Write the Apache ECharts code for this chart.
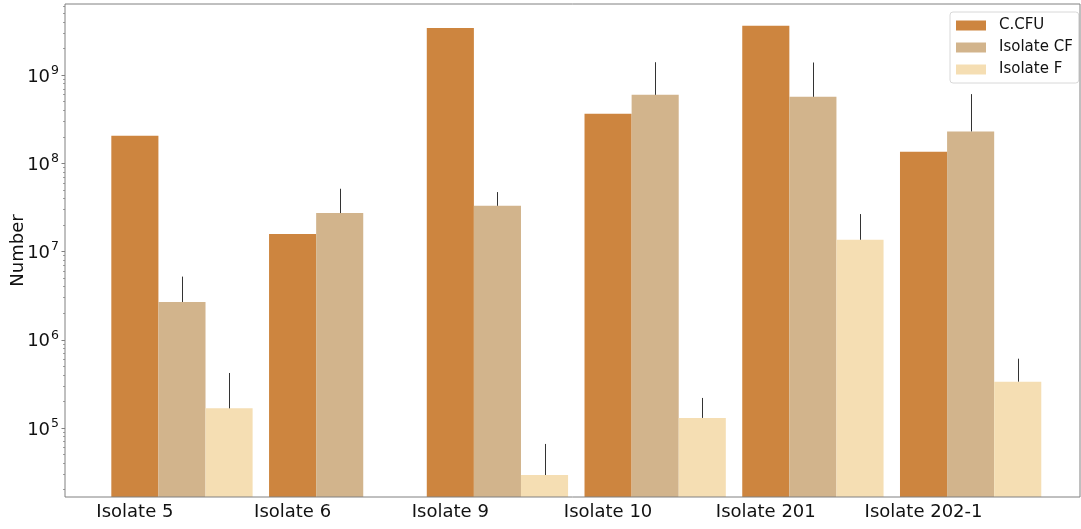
<!DOCTYPE html>
<html><head><meta charset="utf-8">
<script src="https://cdn.jsdelivr.net/npm/echarts@6/dist/echarts.min.js"></script>
<style>html,body{margin:0;padding:0;background:#fff}#c{width:1081px;height:529px}</style>
</head><body><div id="c"></div>
<script>
const categories = ['Isolate 5', 'Isolate 6', 'Isolate 9', 'Isolate 10', 'Isolate 201', 'Isolate 202-1'];
const seriesNames = ['C.CFU', 'Isolate CF', 'Isolate F'];
const cfu = [2.05e8, 1.58e7, 3.41e9, 3.64e8, 3.62e9, 1.35e8];
const isolateCF = [2.68e6, 2.73e7, 3.30e7, 5.98e8, 5.68e8, 2.30e8];
const isolateCFErrTop = [5.2e6, 5.15e7, 4.72e7, 1.40e9, 1.39e9, 6.09e8];
const isolateF = [1.67e5, null, 2.93e4, 1.30e5, 1.36e7, 3.35e5];
const isolateFErrTop = [4.2e5, null, 6.59e4, 2.19e5, 2.66e7, 6.1e5];
const yTickValues = [1e5, 1e6, 1e7, 1e8, 1e9];
const yMin = 1.65e4, yMax = 6.4e9;
const colors = ['#CD853F', '#D2B48C', '#F5DEB3'];

const minorTicks = [];
for (let e = 4; e <= 9; e++) for (let k = 2; k <= 9; k++) {
  const v = k * Math.pow(10, e);
  if (v > yMin && v < yMax) minorTicks.push(v);
}

const FONT = 'DejaVu Sans';
const barW = 0.2986;
const gridTop = 4, gridBottom = 32;

const errData = [];
isolateCF.forEach((v, i) => { if (v != null && isolateCFErrTop[i] != null) errData.push([i, v, isolateCFErrTop[i], 0]); });
isolateF.forEach((v, i) => { if (v != null && isolateFErrTop[i] != null) errData.push([i, v, isolateFErrTop[i], 1]); });

const chart = echarts.init(document.getElementById('c'), null, {renderer: 'canvas'});
chart.setOption({
  animation: false,
  textStyle: {fontFamily: FONT},
  grid: [
    {left: 65, top: gridTop, width: 1015, bottom: gridBottom, show: true, borderColor: '#808080', borderWidth: 1, z: 10, containLabel: false, outerBoundsMode: 'none'},
    {left: 103.1, top: gridTop, width: 946.4, bottom: gridBottom, containLabel: false, outerBoundsMode: 'none'},
    {left: 56.0, top: gridTop, width: 946.4, bottom: gridBottom, containLabel: false, outerBoundsMode: 'none'}
  ],
  legend: {
    data: seriesNames,
    orient: 'vertical',
    left: 950, top: 12,
    itemWidth: 30, itemHeight: 10, itemGap: 7,
    icon: 'rect',
    padding: [6, 6, 6, 6],
    borderColor: '#d8d8d8', borderWidth: 1, borderRadius: 3,
    backgroundColor: 'rgba(255,255,255,0.85)',
    textStyle: {fontFamily: FONT, fontSize: 15, color: '#111', lineHeight: 15, padding: [0, 0, 0, 8]}
  },
  xAxis: [
    {type: 'value', gridIndex: 0, min: 0, max: 1, show: false},
    {type: 'category', gridIndex: 1, data: categories, show: false},
    {type: 'category', gridIndex: 2, data: categories,
      axisLine: {show: false},
      axisTick: {alignWithLabel: true, length: 3.5, lineStyle: {color: '#808080'}},
      axisLabel: {fontFamily: FONT, fontSize: 18, color: '#111', margin: 6}
    }
  ],
  yAxis: [
    {type: 'log', logBase: 10, gridIndex: 0, min: yMin, max: yMax,
      name: 'Number', nameLocation: 'middle', nameGap: 38, nameMoveOverlap: false,
      nameTextStyle: {fontFamily: FONT, fontSize: 18, color: '#111'},
      axisLine: {show: false},
      splitLine: {show: false},
      axisTick: {show: true, length: 3.5, customValues: yTickValues, lineStyle: {color: '#808080'}},
      axisLabel: {
        customValues: yTickValues, margin: 6,
        formatter: v => '{b|10}{s|' + Math.round(Math.log10(v)) + '}',
        rich: {
          b: {fontFamily: FONT, fontSize: 18, color: '#111', verticalAlign: 'bottom', lineHeight: 22},
          s: {fontFamily: FONT, fontSize: 12.5, color: '#111', verticalAlign: 'top', lineHeight: 22, padding: [0, 0, 4, 1]}
        }
      }
    },
    {type: 'log', logBase: 10, gridIndex: 1, min: yMin, max: yMax, show: false, splitLine: {show: false}},
    {type: 'log', logBase: 10, gridIndex: 2, min: yMin, max: yMax, show: false, splitLine: {show: false}},
    {type: 'log', logBase: 10, gridIndex: 0, min: yMin, max: yMax, position: 'left',
      axisLine: {show: false}, splitLine: {show: false}, axisLabel: {show: false},
      axisTick: {show: true, length: 2, customValues: minorTicks, lineStyle: {color: '#a0a0a0'}}
    }
  ],
  series: [
    {name: seriesNames[0], type: 'bar', xAxisIndex: 1, yAxisIndex: 1, data: cfu, barWidth: (barW * 100) + '%', barGap: '0%', itemStyle: {color: colors[0]}},
    {name: seriesNames[1], type: 'bar', xAxisIndex: 1, yAxisIndex: 1, data: isolateCF, barWidth: (barW * 100) + '%', barGap: '0%', itemStyle: {color: colors[1]}},
    {name: seriesNames[2], type: 'bar', xAxisIndex: 1, yAxisIndex: 1, data: isolateF, barWidth: (barW * 100) + '%', barGap: '0%', itemStyle: {color: colors[2]}},
    {type: 'custom', xAxisIndex: 1, yAxisIndex: 1, z: 5, data: errData,
      encode: {x: 0, y: [1, 2]},
      renderItem: function (params, api) {
        const i = api.value(0);
        const which = api.value(3);
        const band = api.size([1, 0])[0];
        const off = which === 0 ? 0 : band * barW;
        const p1 = api.coord([i, api.value(1)]);
        const p2 = api.coord([i, api.value(2)]);
        const x = Math.round(p1[0] + off) + 0.5;
        return {type: 'line', shape: {x1: x, y1: p1[1], x2: x, y2: p2[1]}, style: {stroke: '#333', lineWidth: 1}};
      }
    }
  ]
});
</script></body></html>
